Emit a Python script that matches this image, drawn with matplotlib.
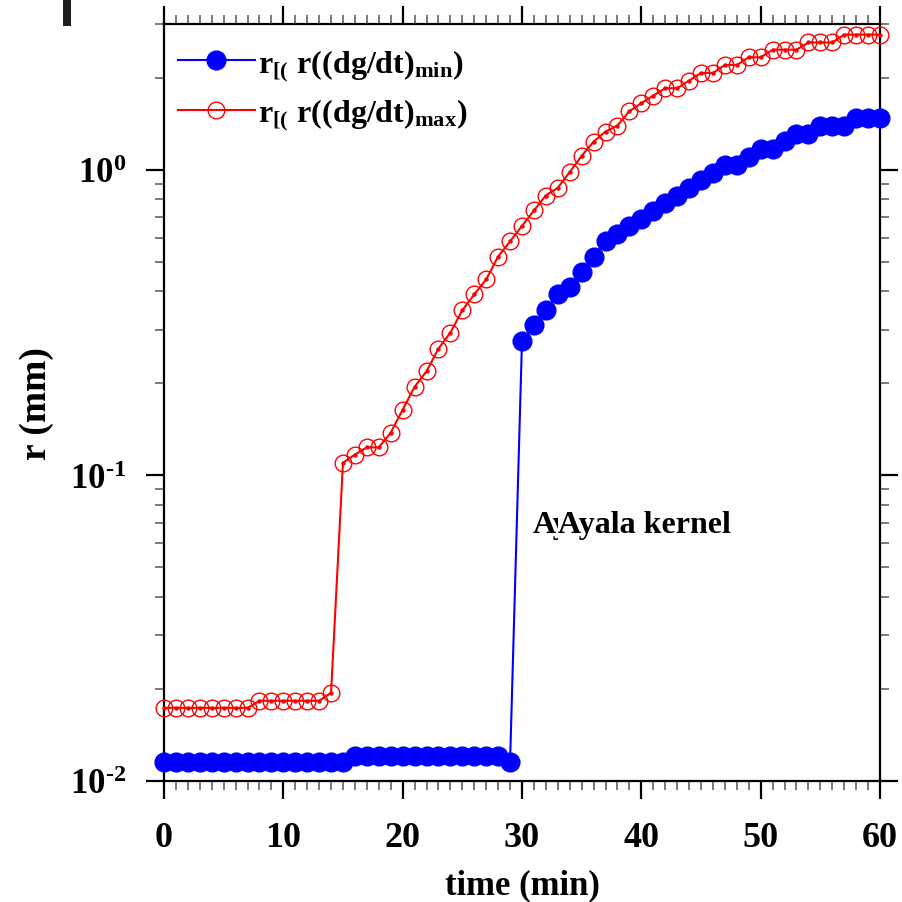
import numpy as np
import matplotlib
matplotlib.use("Agg")
import matplotlib.pyplot as plt
from matplotlib.ticker import FixedLocator, FuncFormatter, MultipleLocator, NullFormatter
from matplotlib.patches import Rectangle

# ---- data -------------------------------------------------------------
time_min = list(range(0, 61))

r_dgdt_min = [0.01152] * 16 + [0.0121] * 13 + [0.01152] + [
    0.275, 0.310, 0.347, 0.391, 0.414, 0.463, 0.520, 0.584, 0.617, 0.654,
    0.691, 0.732, 0.778, 0.824, 0.873, 0.927, 0.977, 1.038, 1.038, 1.100,
    1.172, 1.172, 1.238, 1.312, 1.312, 1.390, 1.390, 1.390, 1.476, 1.476,
    1.476,
]

r_dgdt_max = [0.01735] * 8 + [0.0183] * 6 + [0.01944] + [
    0.110, 0.117, 0.1235, 0.1235, 0.138, 0.164, 0.195, 0.219, 0.260, 0.293,
    0.347, 0.391, 0.438, 0.520, 0.583, 0.655, 0.736, 0.824, 0.873, 0.983,
    1.110, 1.237, 1.334, 1.396, 1.555, 1.652, 1.749, 1.849, 1.849, 1.958,
    2.074, 2.074, 2.203, 2.203, 2.334, 2.334, 2.472, 2.472, 2.472, 2.610,
    2.610, 2.610, 2.770, 2.770, 2.770, 2.770,
]

x_ticks = [0, 10, 20, 30, 40, 50, 60]
y_major = [0.01, 0.1, 1.0]

label_min = r"$r_{[(}\ r((dg/dt)_{min})$"
label_max = r"$r_{[(}\ r((dg/dt)_{max})$"
kernel_text = "Ayala kernel"

# ---- style ------------------------------------------------------------
serif = "Liberation Serif"
plt.rcParams.update({
    "font.family": serif,
    "font.weight": "bold",
    "mathtext.fontset": "custom",
    "mathtext.rm": f"{serif}:bold",
    "mathtext.it": f"{serif}:bold",
    "mathtext.bf": f"{serif}:bold",
})

fig = plt.figure(figsize=(9.02, 9.03), dpi=100)
ax = fig.add_axes([0.1818, 0.1340, 0.7938, 0.8383])

ax.plot(time_min, r_dgdt_min, color="#0000ff", lw=1.5, marker="o",
        ms=13.5, mfc="#0000ff", mec="#0000ff", clip_on=False, zorder=3,
        label=label_min)
ax.plot(time_min, r_dgdt_max, color="#ff0000", lw=1.5, marker="o",
        ms=12, mfc="none", mec="#ff0000", mew=1.0, clip_on=False, zorder=4,
        label=label_max)
ax.plot(time_min, r_dgdt_max, ls="none", marker="o", ms=2.2,
        color="#ff0000", clip_on=False, zorder=4)

ax.set_yscale("log")
ax.set_xlim(0, 60)
ax.set_ylim(0.01, 3.0)


def decade_label(v, pos):
    # hyphen-style sign in the exponent
    e = int(round(np.log10(v)))
    sign = "\u2010" if e < 0 else ""
    return r"$10^{%s%d}$" % (sign, abs(e))


# ticks
ax.xaxis.set_major_locator(FixedLocator(x_ticks))
ax.xaxis.set_minor_locator(MultipleLocator(1))
ax.yaxis.set_major_locator(FixedLocator(y_major))
ax.yaxis.set_minor_locator(FixedLocator(
    [m * d for d in (0.01, 0.1, 1.0) for m in range(2, 10)]))
ax.yaxis.set_minor_formatter(NullFormatter())
ax.yaxis.set_major_formatter(FuncFormatter(decade_label))

ax.tick_params(which="both", direction="out", top=True, right=True)
ax.tick_params(which="major", length=13, width=1.6, color="black")
ax.tick_params(which="minor", length=6.5, width=1.1, color="#555555")
ax.tick_params(axis="x", which="major", labelsize=26, pad=16)
ax.tick_params(axis="y", which="major", labelsize=25, pad=14)
for lab in ax.get_xticklabels() + ax.get_yticklabels():
    lab.set_fontweight("bold")

for sp in ax.spines.values():
    sp.set_linewidth(1.6)

ax.set_xlabel("time (min)", fontsize=25, fontweight="bold", labelpad=10)
ax.set_ylabel("r (mm)", fontsize=27, fontweight="bold", labelpad=12)

leg = ax.legend(loc="upper left", frameon=False, fontsize=23,
                handlelength=2.4, handletextpad=0.1, labelspacing=0.42,
                borderaxespad=0.0, borderpad=0.0,
                bbox_to_anchor=(0.0196, 0.9696))

# overlapping kernel annotation
ax.text(0.515, 0.329, "Ay", transform=ax.transAxes, fontsize=23,
        fontweight="bold", ha="left", va="baseline", zorder=5)
ax.text(0.5505, 0.329, kernel_text, transform=ax.transAxes, fontsize=23,
        fontweight="bold", ha="left", va="baseline", zorder=6,
        bbox=dict(facecolor="white", edgecolor="none", pad=0.0))

# dark bar in the top-left margin
fig.patches.append(Rectangle((0.0695, 0.9704), 0.0089, 0.0296,
                             transform=fig.transFigure, facecolor="#1e1e1e",
                             edgecolor="none"))

fig.savefig("out.png", dpi=100)
